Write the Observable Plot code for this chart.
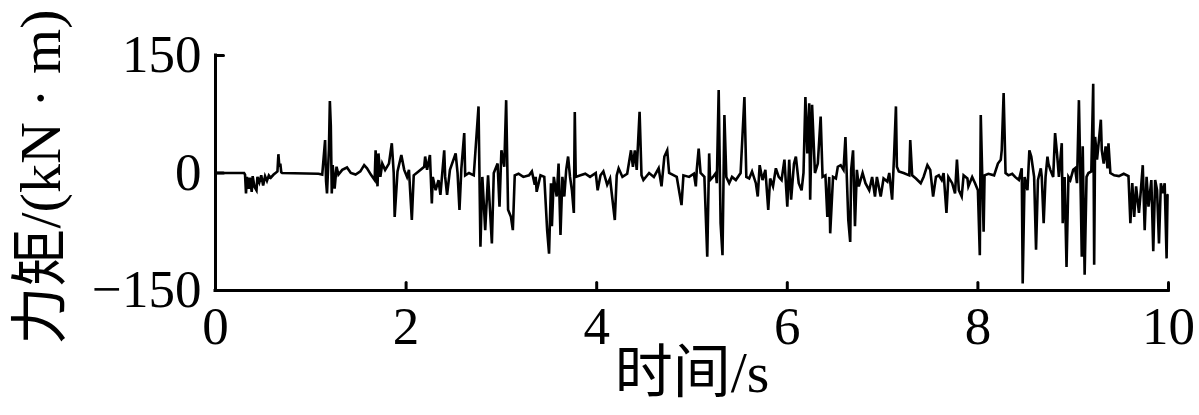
<!DOCTYPE html>
<html>
<head>
<meta charset="utf-8">
<script src="https://cdn.jsdelivr.net/npm/d3@7"></script>
<script src="https://cdn.jsdelivr.net/npm/@observablehq/plot@0.6"></script>
<style>
  html, body { margin: 0; padding: 0; background: #fff; }
</style>
</head>
<body>
<div id="chart"></div>
<script>
// Tick values
const xTicks = [0, 2, 4, 6, 8, 10];
const yTicks = [-150, 0, 150];

// Torque signal [time (s), torque (kN·m)], in six stretches
const seg0 = [[0,0],[0.30,0],[0.31,-2],[0.32,-26],[0.33,-5],[0.35,-20],[0.36,-6],[0.38,-24],[0.39,-4],[0.41,-18],[0.43,-22],[0.44,-5],[0.46,-12],[0.48,-3],[0.50,-16],[0.52,-4],[0.54,-10],[0.56,-3],[0.58,-6],[0.61,-2],[0.63,0],[0.65,2],[0.66,24],[0.67,8],[0.68,12],[0.69,1],[0.70,0],[1.08,-1],[1.12,-2],[1.15,42],[1.16,-10],[1.17,-26],[1.19,30],[1.20,92],[1.21,60],[1.22,-26],[1.23,10],[1.25,-20],[1.27,8],[1.29,-2],[1.33,4],[1.38,7],[1.42,0],[1.47,-2],[1.52,2],[1.56,10],[1.59,6],[1.63,-2],[1.67,-9]];
const seg1 = [[1.68,29],[1.70,-17],[1.71,25],[1.73,-5],[1.75,12],[1.78,4],[1.82,12],[1.85,38],[1.87,0],[1.88,-56],[1.91,2],[1.95,23],[1.98,4],[2.01,-5],[2.03,4],[2.06,-60],[2.08,-3],[2.13,2],[2.19,8],[2.20,21],[2.22,4],[2.25,23],[2.27,-39],[2.28,-5],[2.31,-22],[2.34,-9],[2.36,-28],[2.40,29],[2.41,-5],[2.43,-28],[2.46,4],[2.52,25],[2.54,0],[2.56,-47],[2.58,6],[2.61,51],[2.62,-3],[2.66,0],[2.71,-3],[2.76,85],[2.78,-94],[2.80,-5],[2.83,-73],[2.86,-3],[2.90,-90],[2.92,0],[2.96,12],[2.98,-43],[3.00,29],[3.03,8],[3.05,93],[3.07,-47],[3.10,-56],[3.12,-73],[3.14,-3],[3.18,-1],[3.23,-5],[3.29,-3],[3.32,2],[3.35,-15]];
const seg2 = [[3.36,-5],[3.37,-24],[3.41,-3],[3.45,-5],[3.48,-73],[3.50,-103],[3.52,-13],[3.53,-68],[3.55,-5],[3.58,-30],[3.60,12],[3.62,-79],[3.64,-5],[3.66,-30],[3.68,4],[3.70,21],[3.72,-5],[3.74,-22],[3.76,-51],[3.77,78],[3.78,-5],[3.83,-3],[3.88,-1],[3.93,-5],[3.99,0],[4.01,-22],[4.04,-3],[4.07,2],[4.11,-15],[4.14,-7],[4.19,-60],[4.21,-3],[4.23,6],[4.27,-5],[4.32,-1],[4.36,29],[4.38,8],[4.40,29],[4.42,4],[4.45,78],[4.47,-3],[4.49,-9],[4.55,0],[4.60,-5],[4.65,6],[4.68,-17],[4.71,21],[4.74,29],[4.76,0],[4.81,-3],[4.84,-5],[4.89,-41],[4.91,-3],[4.97,-5],[5.02,-1]];
const seg3 = [[5.04,-17],[5.05,4],[5.07,31],[5.09,0],[5.13,-5],[5.16,-107],[5.18,25],[5.19,-9],[5.22,-5],[5.25,0],[5.26,-13],[5.28,106],[5.30,-64],[5.32,-105],[5.34,74],[5.36,-5],[5.39,-13],[5.42,-5],[5.46,-9],[5.51,0],[5.55,97],[5.57,-5],[5.60,-7],[5.63,2],[5.67,-13],[5.69,-30],[5.71,10],[5.74,-9],[5.77,4],[5.80,-47],[5.82,-7],[5.85,-17],[5.88,6],[5.91,-5],[5.94,-9],[5.97,17],[6.00,-43],[6.02,17],[6.04,-34],[6.07,12],[6.09,21],[6.12,-13],[6.15,-22],[6.17,0],[6.19,97],[6.21,25],[6.23,89],[6.24,-34],[6.26,87],[6.29,0],[6.32,12],[6.35,72],[6.37,-5],[6.40,-3],[6.42,-56],[6.44,-5],[6.45,-77],[6.48,-5],[6.51,-7],[6.53,8],[6.56,10],[6.59,4],[6.61,46],[6.64,-60],[6.66,-88],[6.67,4],[6.69,29],[6.71,-68]];
const seg4 = [[6.73,4],[6.75,-17],[6.79,0],[6.82,-13],[6.86,-22],[6.89,-5],[6.92,-30],[6.94,-5],[6.98,-30],[7.01,-7],[7.05,-11],[7.07,0],[7.10,-34],[7.12,21],[7.14,85],[7.15,8],[7.17,2],[7.22,0],[7.28,-3],[7.29,42],[7.31,-3],[7.35,-7],[7.40,-13],[7.43,-5],[7.47,10],[7.50,4],[7.53,-30],[7.56,-5],[7.59,-3],[7.62,-9],[7.64,0],[7.67,-51],[7.69,-5],[7.73,-13],[7.76,-26],[7.78,17],[7.80,-22],[7.83,-30],[7.85,-3],[7.89,-7],[7.90,-17],[7.94,-5],[7.97,-13],[8.00,-22],[8.02,-105],[8.03,74],[8.06,-75],[8.07,-3],[8.11,-1],[8.17,-3],[8.21,12],[8.24,17],[8.25,29],[8.27,102],[8.29,0],[8.32,-3],[8.36,-1],[8.39,-5]];
const seg5 = [[8.43,-9],[8.46,6],[8.47,-141],[8.49,-5],[8.52,-22],[8.54,29],[8.56,21],[8.59,-5],[8.61,-98],[8.63,-9],[8.66,6],[8.67,-5],[8.69,-64],[8.71,-5],[8.73,21],[8.74,12],[8.76,4],[8.79,-5],[8.81,51],[8.83,25],[8.85,-5],[8.88,38],[8.89,-64],[8.91,-5],[8.93,-120],[8.95,-5],[8.97,-9],[9.00,4],[9.02,6],[9.04,-13],[9.06,93],[9.08,-34],[9.09,-107],[9.10,34],[9.12,-130],[9.14,-5],[9.16,0],[9.19,2],[9.21,114],[9.22,-117],[9.23,46],[9.25,17],[9.27,42],[9.29,68],[9.30,29],[9.32,12],[9.34,34],[9.36,6],[9.37,38],[9.39,0],[9.43,-3],[9.48,-4],[9.53,-1],[9.58,-4],[9.60,-64],[9.62,-13],[9.64,-56],[9.66,-17],[9.69,-51],[9.71,-22],[9.73,10],[9.75,-73],[9.77,-5],[9.79,-43],[9.82,-9],[9.84,-100],[9.86,-9],[9.88,-22],[9.90,-90],[9.92,-13],[9.94,-26],[9.96,-13],[9.98,-109],[9.99,-28]];

const series = [...seg0, ...seg1, ...seg2, ...seg3, ...seg4, ...seg5].map(([t, v]) => ({t, v}));

const fontFamily = "'Liberation Serif', 'Noto Sans CJK SC', serif";

// plain straight tick shape for inward ticks
const tickShape = {draw(context, l) { context.moveTo(0, 0); context.lineTo(0, -l); }};

const chart = Plot.plot({
  width: 1199,
  height: 415,
  marginLeft: 215,
  marginRight: 31,
  marginTop: 55,
  marginBottom: 125,
  style: {fontFamily, color: "#000", background: "#fff"},
  x: {domain: [0, 10]},
  y: {domain: [-150, 150]},
  marks: [
    Plot.line(series, {x: "t", y: "v", stroke: "#000", strokeWidth: 2.6, strokeLinejoin: "miter", strokeMiterlimit: 4}),
    Plot.ruleX([0], {stroke: "#000", strokeWidth: 3, strokeLinecap: "square"}),
    Plot.ruleY([-150], {stroke: "#000", strokeWidth: 3, strokeLinecap: "square"}),
    // inward ticks
    Plot.vector(xTicks, {x: d => d, y: yTicks[0], rotate: 0, length: 8, anchor: "start", shape: tickShape, stroke: "#000", strokeWidth: 3}),
    Plot.vector(yTicks, {x: xTicks[0], y: d => d, rotate: 90, length: 8, anchor: "start", shape: tickShape, stroke: "#000", strokeWidth: 3}),
    Plot.axisX({ticks: xTicks, tickSize: 0, tickPadding: 16, fontSize: 53, label: null, tickFormat: d3.format("d")}),
    Plot.axisY({ticks: yTicks, tickSize: 0, tickPadding: 14, fontSize: 53, label: null}),
    Plot.text(["力矩/(kN · m)"], {frameAnchor: "left", rotate: -90, dx: -174, dy: 4, fontSize: 58, textAnchor: "middle", lineAnchor: "middle"}),
    Plot.text(["时间/s"], {frameAnchor: "bottom", dy: 83, fontSize: 58, textAnchor: "middle", lineAnchor: "middle"})
  ]
});
document.getElementById("chart").appendChild(chart);
</script>
</body>
</html>
